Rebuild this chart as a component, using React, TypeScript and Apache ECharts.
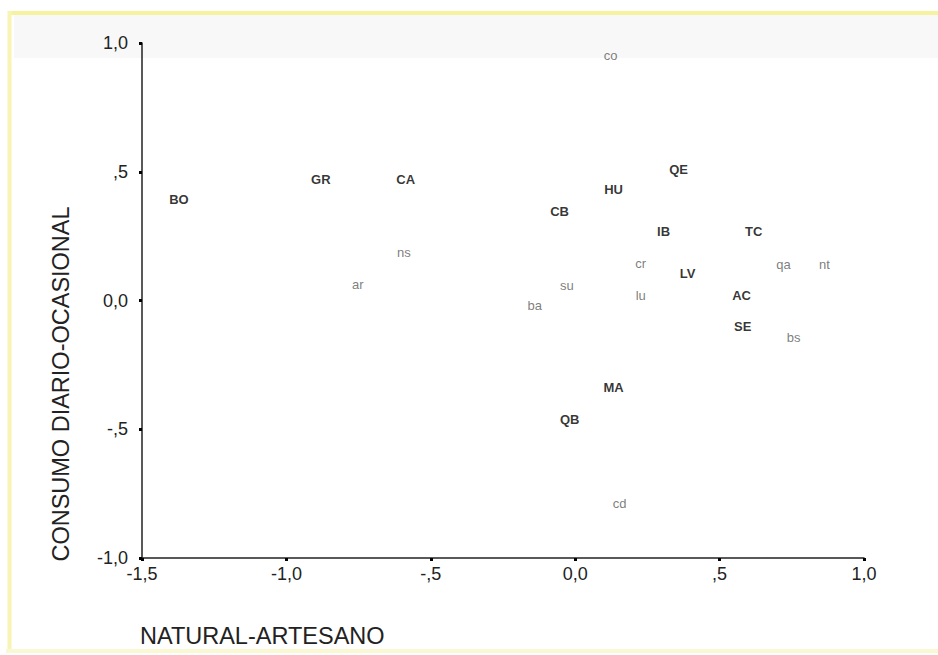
import React, { useEffect, useRef } from "react";
import * as echarts from "echarts";

// Point labels (SPSS-style labelled scatter, labels only)
const pointNames = [
  "co", "BO", "GR", "CA", "ns", "ar", "QE", "HU", "CB", "IB", "TC", "cr",
  "qa", "nt", "LV", "su", "lu", "AC", "ba", "SE", "bs", "MA", "QB", "cd",
];
const naturalArtesano = [
  0.123, -1.372, -0.881, -0.587, -0.593, -0.753, 0.358, 0.133, -0.054, 0.306, 0.618, 0.227,
  0.721, 0.863, 0.389, -0.029, 0.227, 0.576, -0.14, 0.58, 0.756, 0.133, -0.019, 0.154,
];
const consumoDiarioOcasional = [
  0.953, 0.391, 0.469, 0.469, 0.186, 0.062, 0.508, 0.43, 0.345, 0.267, 0.267, 0.143,
  0.14, 0.14, 0.105, 0.058, 0.019, 0.019, -0.019, -0.101, -0.143, -0.337, -0.461, -0.787,
];

const xTitle = "NATURAL-ARTESANO";
const yTitle = "CONSUMO DIARIO-OCASIONAL";
const xTickLabels: Record<string, string> = {
  "-1.5": "-1,5", "-1": "-1,0", "-0.5": "-,5", "0": "0,0", "0.5": ",5", "1": "1,0",
};
const yTickLabels: Record<string, string> = {
  "-1": "-1,0", "-0.5": "-,5", "0": "0,0", "0.5": ",5", "1": "1,0",
};

const FONT = "'Liberation Sans', Arial, sans-serif";

export default function App() {
  const ref = useRef<HTMLDivElement>(null);
  useEffect(() => {
    if (!ref.current) return;
    const chart = echarts.init(ref.current, null, { renderer: "svg" });
    const data = pointNames.map((n, i) => {
      const upper = n === n.toUpperCase();
      return {
        name: n,
        value: [naturalArtesano[i], consumoDiarioOcasional[i]],
        label: {
          fontWeight: upper ? "bold" : "normal",
          color: upper ? "#000" : "#5c5c5c",
          fontSize: 13,
        },
      };
    });
    chart.setOption({
      animation: false,
      backgroundColor: "#ffffff",
      graphic: [
        {
          type: "rect",
          z: -10,
          silent: true,
          shape: { x: 14, y: 15, width: 924, height: 43 },
          style: { fill: "#f8f8f9" },
        },
        {
          type: "line",
          z: -5,
          silent: true,
          shape: { x1: 8, y1: 13, x2: 938, y2: 13 },
          style: { stroke: "#f5f2a0", lineWidth: 4 },
        },
        {
          type: "line",
          z: -5,
          silent: true,
          shape: { x1: 9.5, y1: 11, x2: 9.5, y2: 652 },
          style: { stroke: "#f7f4b4", lineWidth: 4 },
        },
        {
          type: "line",
          z: -5,
          silent: true,
          shape: { x1: 6, y1: 651, x2: 938, y2: 651 },
          style: { stroke: "#faf8d2", lineWidth: 4 },
        },
        {
          type: "text",
          x: 61,
          y: 384,
          rotation: Math.PI / 2,
          style: {
            text: yTitle,
            fontFamily: FONT,
            fontSize: 23.5,
            fill: "#222",
            align: "center",
            verticalAlign: "middle",
          },
        },
      ],
      grid: { left: 142, top: 43, right: 74, bottom: 97 },
      xAxis: {
        type: "value",
        min: -1.5,
        max: 1.0,
        interval: 0.5,
        name: xTitle,
        nameLocation: "start",
        nameGap: 0,
        nameTextStyle: {
          fontFamily: FONT,
          fontSize: 23.5,
          color: "#222",
          align: "left",
          verticalAlign: "top",
          padding: [66, 0, 0, -2],
        },
        splitLine: { show: false },
        axisLine: { show: true, onZero: false, lineStyle: { color: "#222", width: 1.5 } },
        axisTick: { show: true, length: 3, lineStyle: { color: "#000", width: 3 } },
        axisLabel: {
          fontFamily: FONT,
          fontSize: 18,
          color: "#222",
          margin: 7,
          formatter: (v: number) => xTickLabels[String(v)] ?? String(v),
        },
      },
      yAxis: {
        type: "value",
        min: -1.0,
        max: 1.0,
        interval: 0.5,
        splitLine: { show: false },
        axisLine: { show: true, onZero: false, lineStyle: { color: "#222", width: 1.5 } },
        axisTick: { show: true, length: 3, lineStyle: { color: "#000", width: 3 } },
        axisLabel: {
          fontFamily: FONT,
          fontSize: 18,
          color: "#222",
          margin: 14,
          formatter: (v: number) => yTickLabels[String(v)] ?? String(v),
        },
      },
      series: [
        {
          type: "scatter",
          symbol: "circle",
          symbolSize: 1,
          itemStyle: { color: "rgba(0,0,0,0)" },
          data,
          label: {
            show: true,
            position: "inside",
            fontFamily: FONT,
            formatter: (p: any) => p.name,
          },
        },
      ],
    });
    return () => chart.dispose();
  }, []);
  return (
    <div
      ref={ref}
      style={{ position: "fixed", left: 0, top: 0, width: 938, height: 655 }}
    />
  );
}
